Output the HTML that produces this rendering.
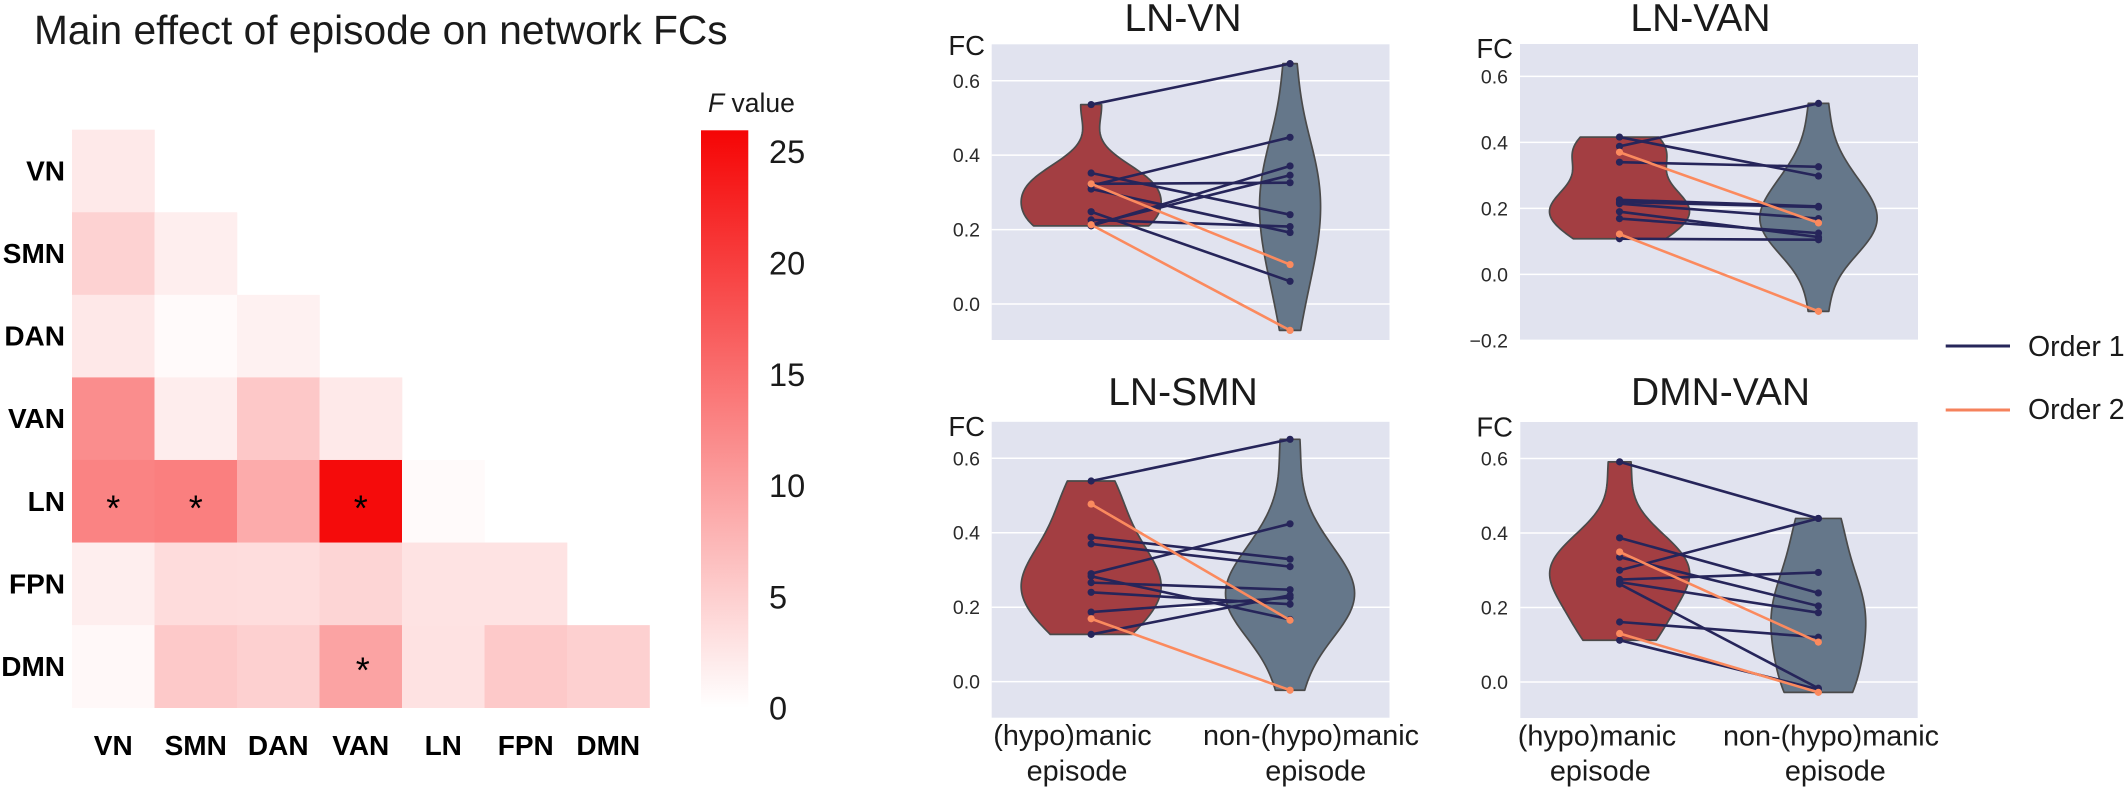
<!DOCTYPE html>
<html lang="en">
<head>
<meta charset="utf-8">
<title>Main effect of episode on network FCs</title>
<style>
html,body{margin:0;padding:0;background:#fff;}
svg{display:block;font-family:"Liberation Sans",Arial,sans-serif;}
</style>
</head>
<body>
<svg id="figure" xmlns="http://www.w3.org/2000/svg" width="2126" height="789" viewBox="0 0 2126 789">
  <defs>
    <linearGradient id="cbar-gradient" x1="0" y1="1" x2="0" y2="0">
      <stop offset="0" stop-color="#ffffff"/>
      <stop offset="1" stop-color="#f50505"/>
    </linearGradient>
  </defs>
  <text x="34" y="44" font-size="40.7" fill="#1a1a1a">Main effect of episode on network FCs</text>
  <g id="heatmap"></g>
  <g id="colorbar">
    <text x="708" y="112" font-size="26.5" fill="#1a1a1a"><tspan font-style="italic">F</tspan> value</text>
    <rect x="701" y="130.3" width="47.3" height="577.7" fill="url(#cbar-gradient)"/>
  </g>
  <g id="panels"></g>
  <g id="legend">
    <g>
      <line x1="1945.7" x2="2010" y1="346" y2="346" stroke="#26265a" stroke-width="3"/>
      <text x="2028" y="356" font-size="28.5" fill="#1a1a1a">Order 1</text>
    </g>
    <g>
      <line x1="1945.7" x2="2010" y1="410" y2="410" stroke="#f5825c" stroke-width="3"/>
      <text x="2028" y="419" font-size="28.5" fill="#1a1a1a">Order 2</text>
    </g>
  </g>
</svg>
<script>
// ---------- Heatmap data ----------
const networks = ['VN', 'SMN', 'DAN', 'VAN', 'LN', 'FPN', 'DMN'];
const fValues = [
  [2.3],
  [4.7, 1.8],
  [2.4, 0.5, 1.5],
  [11.9, 1.9, 5.7, 2.3],
  [12.9, 13.3, 8.7, 25.4, 0.5],
  [1.8, 3.6, 3.5, 4.4, 2.9, 2.9],
  [0.7, 5.6, 4.9, 9.6, 3.0, 5.6, 4.9]
];
const significantCells = [[4, 0], [4, 1], [4, 3], [6, 3]];
const colorbarTicks = [0, 5, 10, 15, 20, 25];
const fMax = 26;

// ---------- FC values per panel (paired: same index = same subject) ----------
const lnVnOrder1Manic = [0.536, 0.352, 0.309, 0.248, 0.226, 0.318, 0.323, 0.210, 0.213];
const lnVnOrder1Non   = [0.646, 0.240, 0.192, 0.061, 0.208, 0.448, 0.326, 0.371, 0.346];
const lnVnOrder2Manic = [0.323, 0.213];
const lnVnOrder2Non   = [0.106, -0.071];

const lnVanOrder1Manic = [0.388, 0.416, 0.340, 0.226, 0.219, 0.214, 0.190, 0.169, 0.108];
const lnVanOrder1Non   = [0.518, 0.298, 0.326, 0.206, 0.204, 0.169, 0.113, 0.125, 0.105];
const lnVanOrder2Manic = [0.370, 0.122];
const lnVanOrder2Non   = [0.156, -0.112];

const lnSmnOrder1Manic = [0.539, 0.290, 0.388, 0.370, 0.266, 0.283, 0.240, 0.187, 0.127];
const lnSmnOrder1Non   = [0.651, 0.424, 0.329, 0.309, 0.247, 0.167, 0.208, 0.226, 0.232];
const lnSmnOrder2Manic = [0.477, 0.169];
const lnSmnOrder2Non   = [0.165, -0.023];

const dmnVanOrder1Manic = [0.591, 0.300, 0.387, 0.335, 0.275, 0.268, 0.263, 0.161, 0.112];
const dmnVanOrder1Non   = [0.439, 0.439, 0.239, 0.204, 0.294, 0.186, -0.017, 0.120, -0.020];
const dmnVanOrder2Manic = [0.349, 0.130];
const dmnVanOrder2Non   = [0.107, -0.028];

const ticksShort = [0, 0.2, 0.4, 0.6];
const ticksLong = [-0.2, 0, 0.2, 0.4, 0.6];
const tickLabelsShort = ['0.0', '0.2', '0.4', '0.6'];
const tickLabelsLong = ['\u22120.2', '0.0', '0.2', '0.4', '0.6'];

const SVG_NS = 'http://www.w3.org/2000/svg';
const C_BG = '#e1e3ef', C_LEFT = '#a33e42', C_RIGHT = '#65778a', C_EDGE = '#4a4a4a';
const C_O1 = '#26255a', C_O2 = '#fb8a5e', C_TEXT = '#1a1a1a', C_TICK = '#2a2a2a';

function mk(tag, parent, props, text) {
  const e = document.createElementNS(SVG_NS, tag);
  for (const k in props) e.setAttribute(k, props[k]);
  if (text !== undefined) e.textContent = text;
  parent.appendChild(e);
  return e;
}
function slug(s) {
  return s.toLowerCase().replace(/[^a-z0-9]+/g, '-').replace(/^-|-$/g, '');
}

// ---------- Heatmap ----------
const hmX0 = 72, hmY0 = 129.7, hmCell = 82.5, hmCellH = 82.57;
function cellX(i) { return hmX0 + i * hmCell; }
function cellY(i) { return hmY0 + i * hmCellH; }
function fColor(v) {
  const t = Math.max(0, Math.min(1, v / fMax));
  const r = Math.round(255 - 10 * t);
  const g = Math.round(255 - 250 * t);
  return 'rgb(' + r + ',' + g + ',' + g + ')';
}
const hm = document.getElementById('heatmap');
fValues.forEach(function (row, r) {
  row.forEach(function (v, c) {
    const cell = mk('rect', hm, {
      x: cellX(c), y: cellY(r), width: hmCell + 0.3, height: hmCellH + 0.3, fill: fColor(v)
    });
    
    
  });
});
networks.forEach(function (n, i) {
  const rowLabel = mk('text', hm, {
    x: 65, y: cellY(i) + hmCellH / 2 + 9.5, 'text-anchor': 'end',
    'font-size': 28, 'font-weight': 'bold', fill: '#000'
  }, n);
  
  
  const colLabel = mk('text', hm, {
    x: cellX(i) + hmCell / 2, y: 755, 'text-anchor': 'middle',
    'font-size': 28, 'font-weight': 'bold', fill: '#000'
  }, n);
  
  
});
significantCells.forEach(function (rc) {
  const star = mk('text', hm, {
    x: cellX(rc[1]) + hmCell / 2 + (rc[0] === 6 ? 2 : 0),
    y: cellY(rc[0]) + hmCellH / 2 + (rc[0] === 6 ? 16 : 19),
    'text-anchor': 'middle', 'font-size': 36, fill: '#000'
  }, '*');
  
  
});

// ---------- Colorbar ticks ----------
const cb = document.getElementById('colorbar');
function cbY(v) { return 708.2 - 22.26 * v; }
colorbarTicks.forEach(function (t) {
  const lab = mk('text', cb, { x: 769, y: cbY(t) + 11.5, 'font-size': 32.5, fill: C_TEXT }, String(t));
  
  
});

// ---------- Violin panels ----------
function kde(values, y) {
  const n = values.length;
  const mean = values.reduce(function (a, b) { return a + b; }, 0) / n;
  const sd = Math.sqrt(values.reduce(function (a, b) { return a + (b - mean) * (b - mean); }, 0) / (n - 1));
  const bw = Math.pow(n, -0.2) * sd;
  let sum = 0;
  values.forEach(function (v) {
    const z = (y - v) / bw;
    sum += Math.exp(-0.5 * z * z);
  });
  return sum / (n * bw * Math.sqrt(2 * Math.PI));
}
function violinProfile(values) {
  const lo = Math.min.apply(null, values), hi = Math.max.apply(null, values);
  const out = [];
  for (let i = 0; i <= 80; i++) {
    const y = lo + (hi - lo) * i / 80;
    out.push([y, kde(values, y)]);
  }
  return out;
}

const panelsRoot = document.getElementById('panels');
function drawPanel(cfg) {
  const g = mk('g', panelsRoot, {});
  
  

  const W = cfg.right - cfg.left, H = cfg.bottom - cfg.top;
  function yPos(v) { return cfg.bottom - (v - cfg.yMin) / (cfg.yMax - cfg.yMin) * H; }
  function xPos(c) { return cfg.left + W * (c + 0.5) / 2; }

  const bg = mk('rect', g, { x: cfg.left, y: cfg.top, width: W, height: H, fill: C_BG });
  
  

  const title = mk('text', g, {
    x: cfg.titleX, y: cfg.titleY, 'text-anchor': 'middle', 'font-size': 39, fill: C_TEXT
  }, cfg.title);
  
  

  const fc = mk('text', g, {
    x: cfg.fcX, y: cfg.fcY, 'text-anchor': 'end', 'font-size': 27.5, fill: C_TEXT
  }, 'FC');
  
  

  cfg.ticks.forEach(function (t, i) {
    const gy = yPos(t);
    const grid = mk('line', g, {
      x1: cfg.left, x2: cfg.right, y1: gy, y2: gy, stroke: '#fff', 'stroke-width': 1.5
    });
    
    
    const lab = mk('text', g, {
      x: cfg.tickX, y: gy + 7, 'text-anchor': 'end', 'font-size': 19.5, fill: C_TICK
    }, cfg.tickLabels[i]);
    
    
  });

  const manic = cfg.o1m.concat(cfg.o2m);
  const non = cfg.o1n.concat(cfg.o2n);
  const profiles = [violinProfile(manic), violinProfile(non)];
  let maxD = 0;
  profiles.forEach(function (p) { p.forEach(function (q) { if (q[1] > maxD) maxD = q[1]; }); });
  const maxHalf = 70;
  profiles.forEach(function (p, c) {
    const cx = xPos(c);
    const rightSide = p.map(function (q) { return (cx + q[1] / maxD * maxHalf).toFixed(2) + ',' + yPos(q[0]).toFixed(2); });
    const leftSide = p.slice().reverse().map(function (q) { return (cx - q[1] / maxD * maxHalf).toFixed(2) + ',' + yPos(q[0]).toFixed(2); });
    const v = mk('polygon', g, {
      points: rightSide.concat(leftSide).join(' '),
      fill: c === 0 ? C_LEFT : C_RIGHT, stroke: C_EDGE, 'stroke-width': 1.7, 'stroke-linejoin': 'round'
    });
    
    
  });

  function drawPairs(ma, na, color, label) {
    ma.forEach(function (mv, i) {
      const ln = mk('line', g, {
        x1: xPos(0), y1: yPos(mv), x2: xPos(1), y2: yPos(na[i]),
        stroke: color, 'stroke-width': 2.6
      });
      
      
      const d1 = mk('circle', g, { cx: xPos(0), cy: yPos(mv), r: 3.6, fill: color });
      
      
      const d2 = mk('circle', g, { cx: xPos(1), cy: yPos(na[i]), r: 3.6, fill: color });
      
      
    });
  }
  drawPairs(cfg.o1m, cfg.o1n, C_O1, 'order-1');
  drawPairs(cfg.o2m, cfg.o2n, C_O2, 'order-2');

  if (cfg.xLabels) {
    cfg.xLabels.forEach(function (d) {
      const t = mk('text', g, {
        x: d[0], y: d[1], 'text-anchor': 'middle', 'font-size': 28.8, fill: C_TEXT
      }, d[2]);
      
      
    });
  }
}

drawPanel({
  title: 'LN-VN', left: 991.7, right: 1389.5, top: 44.3, bottom: 340, yMin: -0.0968, yMax: 0.698,
  titleX: 1183, titleY: 31, fcX: 985, fcY: 55, tickX: 980,
  ticks: ticksShort, tickLabels: tickLabelsShort,
  o1m: lnVnOrder1Manic, o1n: lnVnOrder1Non, o2m: lnVnOrder2Manic, o2n: lnVnOrder2Non
});
drawPanel({
  title: 'LN-VAN', left: 1520, right: 1918, top: 44, bottom: 340.4, yMin: -0.2, yMax: 0.698,
  titleX: 1700.5, titleY: 31, fcX: 1513, fcY: 58, tickX: 1508,
  ticks: ticksLong, tickLabels: tickLabelsLong,
  o1m: lnVanOrder1Manic, o1n: lnVanOrder1Non, o2m: lnVanOrder2Manic, o2n: lnVanOrder2Non
});
drawPanel({
  title: 'LN-SMN', left: 991.7, right: 1389.5, top: 421.8, bottom: 717.7, yMin: -0.0968, yMax: 0.698,
  titleX: 1183, titleY: 405, fcX: 985, fcY: 436, tickX: 980,
  ticks: ticksShort, tickLabels: tickLabelsShort,
  o1m: lnSmnOrder1Manic, o1n: lnSmnOrder1Non, o2m: lnSmnOrder2Manic, o2n: lnSmnOrder2Non,
  xLabels: [[1072.5, 745, '(hypo)manic'], [1077, 780.5, 'episode'], [1311, 745, 'non-(hypo)manic'], [1315.7, 780.5, 'episode']]
});
drawPanel({
  title: 'DMN-VAN', left: 1520.3, right: 1917.7, top: 422, bottom: 718, yMin: -0.0968, yMax: 0.698,
  titleX: 1720.5, titleY: 405, fcX: 1513, fcY: 436.5, tickX: 1508,
  ticks: ticksShort, tickLabels: tickLabelsShort,
  o1m: dmnVanOrder1Manic, o1n: dmnVanOrder1Non, o2m: dmnVanOrder2Manic, o2n: dmnVanOrder2Non,
  xLabels: [[1597, 745.5, '(hypo)manic'], [1600.3, 780.5, 'episode'], [1831, 745.5, 'non-(hypo)manic'], [1835.3, 780.5, 'episode']]
});
</script>
</body>
</html>
